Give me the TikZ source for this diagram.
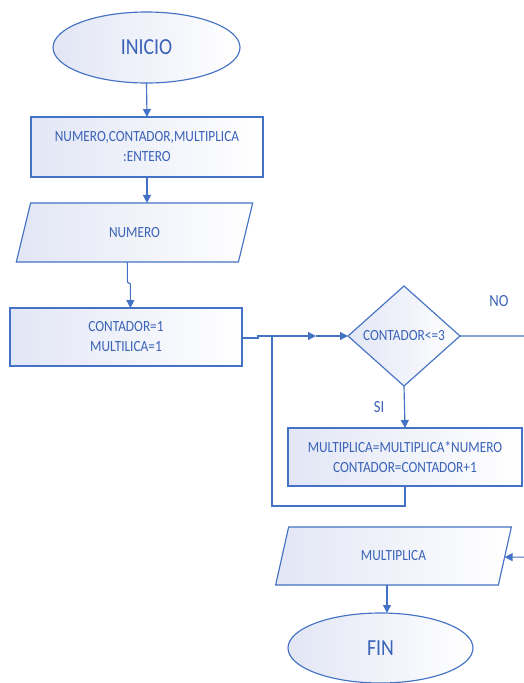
\documentclass[tikz,border=0pt]{standalone}
\usepackage{fontspec}
\usetikzlibrary{shapes.geometric,arrows.meta,calc}
\newfontfamily\flowfont[FakeStretch=0.86]{Carlito}
\definecolor{flowblue}{HTML}{4472C4}
\definecolor{flowtext}{HTML}{3A63B8}
\definecolor{flowfill}{HTML}{E2E6F5}
\tikzset{
  x=1pt, y=-1pt,
  bodytext/.style={text=flowtext, inner sep=0pt, align=center,
    font=\flowfont\fontsize{15.5}{20}\selectfont},
  shapebase/.style={bodytext, draw=flowblue, line width=1.15pt, left color=flowfill, right color=white,
    outer sep=0pt},
  terminal/.style={shapebase, ellipse, font=\flowfont\fontsize{23}{26}\selectfont},
  process/.style={shapebase, rectangle},
  io/.style={shapebase, trapezium, trapezium stretches=true},
  decision/.style={shapebase, diamond},
  tag/.style={text=flowtext, font=\flowfont\fontsize{17}{20}\selectfont, inner sep=0pt},
  flow/.style={draw=flowblue, line width=1.15pt},
  arrow/.style={flow, -{Triangle[length=8pt,width=8pt]}},
}
\begin{document}
\begin{tikzpicture}
\useasboundingbox (0,0) rectangle (524,683);
\clip (0,0) rectangle (524,683);

% shapes
\node[terminal, minimum width=187, minimum height=71] (inicio) at (146.5,47.5) {INICIO};
\node[process, minimum width=232, minimum height=60] (decl) at (147,147)
  {NUMERO,CONTADOR,MULTIPLICA\\:ENTERO};
\node[io, trapezium left angle=71, trapezium right angle=109,
  minimum width=237, minimum height=59] (leer) at (134.5,232.5) {NUMERO};
\node[process, minimum width=232, minimum height=58] (init) at (126,337)
  {CONTADOR=1\\MULTILICA=1};
\node[decision, minimum width=112, minimum height=100,
  label={[bodytext]center:CONTADOR<=3}] (cond) at (404,336) {};
\node[process, minimum width=234, minimum height=58] (body) at (405,457)
  {MULTIPLICA=MULTIPLICA*NUMERO\\CONTADOR=CONTADOR+1};
\node[io, trapezium left angle=68.4, trapezium right angle=111.6,
  minimum width=237, minimum height=58] (out) at (393.5,556) {MULTIPLICA};
\node[terminal, minimum width=185, minimum height=70] (fin) at (380.5,648) {FIN};

% branch labels
\node[tag] (no) at (499,301) {NO};
\node[tag] (si) at (379,407) {SI};

% connector points
\coordinate (leerbot) at ($(leer.bottom left corner)!0.5!(leer.bottom right corner)$);
\coordinate (jog1) at ($(leerbot)+(0,20)$);
\coordinate (jog2) at ($(leerbot)+(3,22)$);
\coordinate (step1) at (258,338);
\coordinate (step2) at (258,336);
\coordinate (merge) at (272,336);
\coordinate (midarrow) at (316,336);
\coordinate (loopdown) at (405,506);
\coordinate (loopleft) at (272,506);
\coordinate (exitr) at (540,336);
\coordinate (exitb) at (540,557);
\coordinate (outin) at ($(out.top right corner)!0.52!(out.bottom right corner)$);
\coordinate (outbot) at ($(out.bottom left corner)!0.5!(out.bottom right corner)$);

% connectors
\draw[arrow] (inicio.south) -- (decl.north);
\draw[arrow] (decl.south) -- (decl.south |- leer.north);
\draw[arrow] (leerbot) -- (jog1) -- (jog2) -- (jog2 |- init.north);
\draw[arrow] (init.east |- step1) -- (step1) -- (step2) -- (midarrow);
\draw[arrow] (midarrow) -- (cond.west);
\draw[arrow] (cond.south) -- (body.north);
\draw[flow] (body.south) -- (loopdown) -- (loopleft) -- (merge);
\draw[arrow] (cond.east) -- (exitr) -- (exitb) -- (outin);
\draw[arrow] (outbot) -- (outbot |- fin.north);
\end{tikzpicture}
\end{document}
